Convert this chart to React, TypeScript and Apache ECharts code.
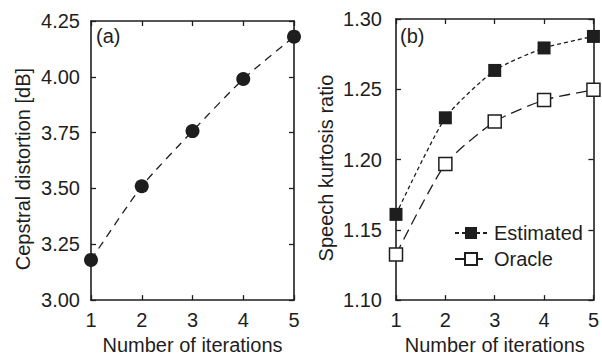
import React, { useEffect, useRef } from "react";
import * as echarts from "echarts";

const iterations = [1, 2, 3, 4, 5];
const cepstralDistortion = [3.18, 3.51, 3.757, 3.99, 4.18];
const estimatedKurtosis = [1.161, 1.2297, 1.2634, 1.2794, 1.2876];
const oracleKurtosis = [1.1324, 1.1968, 1.227, 1.2423, 1.2496];
const panelLabels = ["(a)", "(b)"];

const INK = "#1e1e1e";
const FONT = "'Liberation Sans', Arial, Helvetica, sans-serif";

export default function App() {
  const ref = useRef<HTMLDivElement>(null);
  useEffect(() => {
    document.body.style.margin = "0";
    const chart = echarts.init(ref.current!, undefined, { renderer: "svg" });
    const pairs = (ys: number[]) => iterations.map((x, i) => [x, ys[i]]);
    const axisLine = { show: true, lineStyle: { color: INK, width: 1.6 } };
    const tick = { show: true, inside: true, length: 5, lineStyle: { color: INK, width: 1.3 } };
    const label = { color: INK, fontSize: 20, fontFamily: FONT };
    const mainX = (gi: number) => ({
      type: "value", gridIndex: gi, min: 1, max: 5, interval: 1,
      axisLine, axisTick: tick, splitLine: { show: false },
      axisLabel: { ...label, margin: 10 },
      name: "Number of iterations", nameLocation: "middle", nameGap: 27,
      nameTextStyle: { ...label },
    });
    const topX = (gi: number) => ({
      type: "value", gridIndex: gi, position: "top", min: 1, max: 5, interval: 1,
      axisLine, axisTick: tick, splitLine: { show: false }, axisLabel: { show: false },
    });
    const mainY = (gi: number, min: number, max: number, interval: number, name: string, margin: number, gap: number) => ({
      type: "value", gridIndex: gi, min, max, interval,
      axisLine, axisTick: tick, splitLine: { show: false },
      axisLabel: { ...label, margin, formatter: (v: number) => v.toFixed(2) },
      name, nameLocation: "middle", nameGap: gap,
      nameTextStyle: { ...label, padding: [0, 17, 0, 0] },
    });
    const rightY = (gi: number, min: number, max: number, interval: number) => ({
      type: "value", gridIndex: gi, position: "right", min, max, interval,
      axisLine, axisTick: tick, splitLine: { show: false }, axisLabel: { show: false },
    });
    chart.setOption({
      animation: false,
      grid: [
        { left: 91, top: 21, width: 203, height: 283.5 },
        { left: 396, top: 19, width: 203, height: 284.5 },
      ],
      xAxis: [mainX(0), mainX(1), topX(0), topX(1)],
      yAxis: [
        mainY(0, 3.0, 4.25, 0.25, "Cepstral distortion [dB]", 11, 58),
        mainY(1, 1.1, 1.3, 0.05, "Speech kurtosis ratio", 14, 60),
        rightY(0, 3.0, 4.25, 0.25),
        rightY(1, 1.1, 1.3, 0.05),
      ],
      legend: {
        left: 449, top: 218, orient: "vertical", itemGap: 6,
        itemWidth: 32, itemHeight: 15,
        textStyle: { ...label, padding: [0, 0, 0, 2] },
        data: ["Estimated", "Oracle"],
      },
      graphic: [
        { type: "text", left: 96, top: 26, style: { text: panelLabels[0], fill: INK, font: `20px ${FONT}` } },
        { type: "text", left: 400, top: 26, style: { text: panelLabels[1], fill: INK, font: `20px ${FONT}` } },
      ],
      series: [
        {
          type: "line", name: "Cepstral", xAxisIndex: 0, yAxisIndex: 0,
          data: pairs(cepstralDistortion), smooth: 0.2, clip: false,
          symbol: "circle", symbolSize: 14,
          lineStyle: { color: INK, width: 1.3, type: [8, 6] },
          itemStyle: { color: INK },
        },
        {
          type: "line", name: "Estimated", xAxisIndex: 1, yAxisIndex: 1,
          data: pairs(estimatedKurtosis), smooth: 0.2, clip: false,
          symbol: "rect", symbolSize: 13,
          lineStyle: { color: INK, width: 1.3, type: [4, 3] },
          itemStyle: { color: INK },
        },
        {
          type: "line", name: "Oracle", xAxisIndex: 1, yAxisIndex: 1,
          data: pairs(oracleKurtosis), smooth: 0.2, clip: false,
          symbol: "rect", symbolSize: 13,
          lineStyle: { color: INK, width: 1.3, type: [11, 6] },
          itemStyle: { color: "#ffffff", borderColor: INK, borderWidth: 1.5 },
        },
      ],
    });
    return () => chart.dispose();
  }, []);
  return <div ref={ref} style={{ width: 602, height: 360 }} />;
}
